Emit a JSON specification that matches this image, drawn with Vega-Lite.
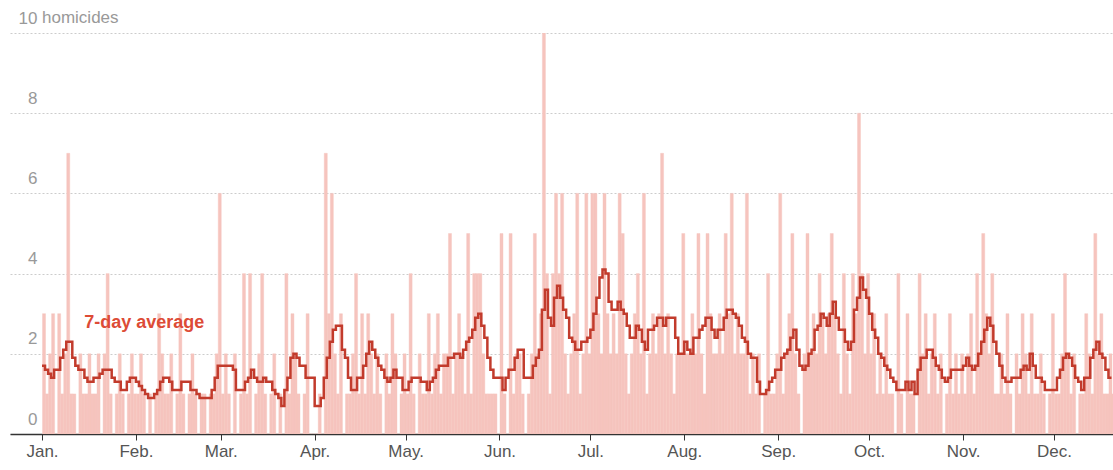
{
  "$schema": "https://vega.github.io/schema/vega-lite/v6.json",
  "width": 1103,
  "height": 401,
  "autosize": {"type": "none"},
  "padding": {"left": 10, "top": 33, "right": 0, "bottom": 36},
  "background": "white",
  "config": {"view": {"stroke": null}, "font": "Liberation Sans"},
  "datasets": {"daily": [
{"date":"2019-01-01","n":3,"a":1.7},{"date":"2019-01-02","n":1,"a":1.6},{"date":"2019-01-03","n":2,"a":1.5},{"date":"2019-01-04","n":3,"a":1.4},{"date":"2019-01-05","n":0,"a":1.6},{"date":"2019-01-06","n":3,"a":1.6},{"date":"2019-01-07","n":1,"a":1.9},{"date":"2019-01-08","n":2,"a":2.1},{"date":"2019-01-09","n":7,"a":2.3},{"date":"2019-01-10","n":1,"a":2.3},{"date":"2019-01-11","n":1,"a":1.9},{"date":"2019-01-12","n":0,"a":1.7},{"date":"2019-01-13","n":2,"a":1.6},{"date":"2019-01-14","n":1,"a":1.6},{"date":"2019-01-15","n":1,"a":1.4},{"date":"2019-01-16","n":2,"a":1.3},{"date":"2019-01-17","n":1,"a":1.3},{"date":"2019-01-18","n":1,"a":1.4},{"date":"2019-01-19","n":2,"a":1.4},{"date":"2019-01-20","n":0,"a":1.5},{"date":"2019-01-21","n":2,"a":1.6},{"date":"2019-01-22","n":4,"a":1.6},{"date":"2019-01-23","n":1,"a":1.6},{"date":"2019-01-24","n":0,"a":1.4},{"date":"2019-01-25","n":1,"a":1.3},{"date":"2019-01-26","n":2,"a":1.3},{"date":"2019-01-27","n":1,"a":1.1},{"date":"2019-01-28","n":0,"a":1.1},{"date":"2019-01-29","n":1,"a":1.3},{"date":"2019-01-30","n":2,"a":1.4},{"date":"2019-01-31","n":1,"a":1.4},
{"date":"2019-02-01","n":1,"a":1.3},{"date":"2019-02-02","n":2,"a":1.2},{"date":"2019-02-03","n":1,"a":1.1},{"date":"2019-02-04","n":0,"a":1.0},{"date":"2019-02-05","n":1,"a":0.9},{"date":"2019-02-06","n":0,"a":0.9},{"date":"2019-02-07","n":1,"a":1.0},{"date":"2019-02-08","n":3,"a":1.1},{"date":"2019-02-09","n":2,"a":1.3},{"date":"2019-02-10","n":1,"a":1.4},{"date":"2019-02-11","n":1,"a":1.4},{"date":"2019-02-12","n":2,"a":1.3},{"date":"2019-02-13","n":0,"a":1.1},{"date":"2019-02-14","n":1,"a":1.1},{"date":"2019-02-15","n":3,"a":1.1},{"date":"2019-02-16","n":1,"a":1.3},{"date":"2019-02-17","n":0,"a":1.3},{"date":"2019-02-18","n":1,"a":1.3},{"date":"2019-02-19","n":2,"a":1.1},{"date":"2019-02-20","n":1,"a":1.1},{"date":"2019-02-21","n":0,"a":1.0},{"date":"2019-02-22","n":1,"a":0.9},{"date":"2019-02-23","n":1,"a":0.9},{"date":"2019-02-24","n":0,"a":0.9},{"date":"2019-02-25","n":1,"a":0.9},{"date":"2019-02-26","n":1,"a":1.1},{"date":"2019-02-27","n":2,"a":1.4},{"date":"2019-02-28","n":6,"a":1.7},
{"date":"2019-03-01","n":1,"a":1.7},{"date":"2019-03-02","n":2,"a":1.7},{"date":"2019-03-03","n":1,"a":1.7},{"date":"2019-03-04","n":0,"a":1.7},{"date":"2019-03-05","n":2,"a":1.6},{"date":"2019-03-06","n":0,"a":1.1},{"date":"2019-03-07","n":1,"a":1.1},{"date":"2019-03-08","n":4,"a":1.1},{"date":"2019-03-09","n":1,"a":1.3},{"date":"2019-03-10","n":4,"a":1.4},{"date":"2019-03-11","n":0,"a":1.6},{"date":"2019-03-12","n":1,"a":1.4},{"date":"2019-03-13","n":2,"a":1.3},{"date":"2019-03-14","n":4,"a":1.3},{"date":"2019-03-15","n":1,"a":1.4},{"date":"2019-03-16","n":0,"a":1.3},{"date":"2019-03-17","n":1,"a":1.3},{"date":"2019-03-18","n":2,"a":1.1},{"date":"2019-03-19","n":0,"a":1.0},{"date":"2019-03-20","n":1,"a":0.9},{"date":"2019-03-21","n":0,"a":0.7},{"date":"2019-03-22","n":4,"a":1.1},{"date":"2019-03-23","n":1,"a":1.4},{"date":"2019-03-24","n":3,"a":1.9},{"date":"2019-03-25","n":2,"a":2.0},{"date":"2019-03-26","n":1,"a":1.9},{"date":"2019-03-27","n":0,"a":1.7},{"date":"2019-03-28","n":1,"a":1.7},{"date":"2019-03-29","n":3,"a":1.4},{"date":"2019-03-30","n":0,"a":1.4},{"date":"2019-03-31","n":0,"a":1.4},
{"date":"2019-04-01","n":0,"a":0.7},{"date":"2019-04-02","n":1,"a":0.7},{"date":"2019-04-03","n":0,"a":0.9},{"date":"2019-04-04","n":7,"a":1.4},{"date":"2019-04-05","n":3,"a":1.9},{"date":"2019-04-06","n":6,"a":2.3},{"date":"2019-04-07","n":2,"a":2.6},{"date":"2019-04-08","n":1,"a":2.7},{"date":"2019-04-09","n":3,"a":2.7},{"date":"2019-04-10","n":0,"a":2.1},{"date":"2019-04-11","n":1,"a":1.9},{"date":"2019-04-12","n":1,"a":1.4},{"date":"2019-04-13","n":2,"a":1.1},{"date":"2019-04-14","n":4,"a":1.1},{"date":"2019-04-15","n":1,"a":1.4},{"date":"2019-04-16","n":3,"a":1.4},{"date":"2019-04-17","n":1,"a":1.7},{"date":"2019-04-18","n":3,"a":2.0},{"date":"2019-04-19","n":2,"a":2.3},{"date":"2019-04-20","n":1,"a":2.1},{"date":"2019-04-21","n":2,"a":1.9},{"date":"2019-04-22","n":1,"a":1.7},{"date":"2019-04-23","n":0,"a":1.6},{"date":"2019-04-24","n":2,"a":1.4},{"date":"2019-04-25","n":1,"a":1.3},{"date":"2019-04-26","n":3,"a":1.4},{"date":"2019-04-27","n":2,"a":1.6},{"date":"2019-04-28","n":0,"a":1.4},{"date":"2019-04-29","n":1,"a":1.4},{"date":"2019-04-30","n":2,"a":1.1},
{"date":"2019-05-01","n":1,"a":1.1},{"date":"2019-05-02","n":4,"a":1.3},{"date":"2019-05-03","n":1,"a":1.4},{"date":"2019-05-04","n":0,"a":1.4},{"date":"2019-05-05","n":2,"a":1.4},{"date":"2019-05-06","n":1,"a":1.3},{"date":"2019-05-07","n":1,"a":1.3},{"date":"2019-05-08","n":3,"a":1.1},{"date":"2019-05-09","n":1,"a":1.3},{"date":"2019-05-10","n":2,"a":1.4},{"date":"2019-05-11","n":3,"a":1.6},{"date":"2019-05-12","n":1,"a":1.7},{"date":"2019-05-13","n":2,"a":1.7},{"date":"2019-05-14","n":2,"a":1.7},{"date":"2019-05-15","n":5,"a":1.9},{"date":"2019-05-16","n":1,"a":1.9},{"date":"2019-05-17","n":2,"a":2.0},{"date":"2019-05-18","n":3,"a":2.0},{"date":"2019-05-19","n":2,"a":1.9},{"date":"2019-05-20","n":1,"a":2.1},{"date":"2019-05-21","n":5,"a":2.3},{"date":"2019-05-22","n":1,"a":2.4},{"date":"2019-05-23","n":4,"a":2.6},{"date":"2019-05-24","n":4,"a":2.9},{"date":"2019-05-25","n":4,"a":3.0},{"date":"2019-05-26","n":2,"a":2.7},{"date":"2019-05-27","n":1,"a":2.4},{"date":"2019-05-28","n":1,"a":1.9},{"date":"2019-05-29","n":1,"a":1.6},{"date":"2019-05-30","n":1,"a":1.4},{"date":"2019-05-31","n":0,"a":1.4},
{"date":"2019-06-01","n":5,"a":1.4},{"date":"2019-06-02","n":1,"a":1.1},{"date":"2019-06-03","n":0,"a":1.4},{"date":"2019-06-04","n":5,"a":1.6},{"date":"2019-06-05","n":1,"a":1.6},{"date":"2019-06-06","n":2,"a":1.9},{"date":"2019-06-07","n":2,"a":2.1},{"date":"2019-06-08","n":1,"a":2.1},{"date":"2019-06-09","n":0,"a":1.4},{"date":"2019-06-10","n":1,"a":1.4},{"date":"2019-06-11","n":2,"a":1.4},{"date":"2019-06-12","n":5,"a":1.7},{"date":"2019-06-13","n":2,"a":1.9},{"date":"2019-06-14","n":3,"a":2.1},{"date":"2019-06-15","n":10,"a":3.1},{"date":"2019-06-16","n":4,"a":3.6},{"date":"2019-06-17","n":1,"a":2.9},{"date":"2019-06-18","n":4,"a":2.7},{"date":"2019-06-19","n":6,"a":3.4},{"date":"2019-06-20","n":4,"a":3.7},{"date":"2019-06-21","n":6,"a":3.4},{"date":"2019-06-22","n":2,"a":3.1},{"date":"2019-06-23","n":1,"a":2.9},{"date":"2019-06-24","n":2,"a":2.4},{"date":"2019-06-25","n":3,"a":2.3},{"date":"2019-06-26","n":6,"a":2.1},{"date":"2019-06-27","n":1,"a":2.1},{"date":"2019-06-28","n":2,"a":2.3},{"date":"2019-06-29","n":6,"a":2.3},{"date":"2019-06-30","n":2,"a":2.4},
{"date":"2019-07-01","n":6,"a":2.6},{"date":"2019-07-02","n":6,"a":3.0},{"date":"2019-07-03","n":3,"a":3.4},{"date":"2019-07-04","n":2,"a":3.9},{"date":"2019-07-05","n":6,"a":4.1},{"date":"2019-07-06","n":3,"a":4.0},{"date":"2019-07-07","n":2,"a":3.3},{"date":"2019-07-08","n":3,"a":3.1},{"date":"2019-07-09","n":2,"a":3.1},{"date":"2019-07-10","n":6,"a":3.3},{"date":"2019-07-11","n":5,"a":3.1},{"date":"2019-07-12","n":2,"a":3.0},{"date":"2019-07-13","n":1,"a":2.7},{"date":"2019-07-14","n":2,"a":2.4},{"date":"2019-07-15","n":3,"a":2.4},{"date":"2019-07-16","n":4,"a":2.7},{"date":"2019-07-17","n":2,"a":2.6},{"date":"2019-07-18","n":6,"a":2.3},{"date":"2019-07-19","n":1,"a":2.1},{"date":"2019-07-20","n":2,"a":2.6},{"date":"2019-07-21","n":3,"a":2.6},{"date":"2019-07-22","n":2,"a":2.7},{"date":"2019-07-23","n":3,"a":2.9},{"date":"2019-07-24","n":7,"a":2.9},{"date":"2019-07-25","n":2,"a":2.7},{"date":"2019-07-26","n":3,"a":2.9},{"date":"2019-07-27","n":2,"a":2.9},{"date":"2019-07-28","n":1,"a":2.9},{"date":"2019-07-29","n":2,"a":2.4},{"date":"2019-07-30","n":2,"a":2.0},{"date":"2019-07-31","n":5,"a":2.0},
{"date":"2019-08-01","n":2,"a":2.3},{"date":"2019-08-02","n":2,"a":2.1},{"date":"2019-08-03","n":3,"a":2.0},{"date":"2019-08-04","n":2,"a":2.4},{"date":"2019-08-05","n":5,"a":2.4},{"date":"2019-08-06","n":2,"a":2.6},{"date":"2019-08-07","n":1,"a":2.7},{"date":"2019-08-08","n":5,"a":2.9},{"date":"2019-08-09","n":3,"a":2.9},{"date":"2019-08-10","n":2,"a":2.6},{"date":"2019-08-11","n":2,"a":2.4},{"date":"2019-08-12","n":3,"a":2.6},{"date":"2019-08-13","n":2,"a":2.6},{"date":"2019-08-14","n":5,"a":2.9},{"date":"2019-08-15","n":3,"a":3.1},{"date":"2019-08-16","n":6,"a":3.1},{"date":"2019-08-17","n":2,"a":3.0},{"date":"2019-08-18","n":3,"a":2.9},{"date":"2019-08-19","n":2,"a":2.7},{"date":"2019-08-20","n":2,"a":2.4},{"date":"2019-08-21","n":6,"a":2.3},{"date":"2019-08-22","n":1,"a":2.0},{"date":"2019-08-23","n":2,"a":1.9},{"date":"2019-08-24","n":1,"a":1.9},{"date":"2019-08-25","n":2,"a":1.3},{"date":"2019-08-26","n":0,"a":1.0},{"date":"2019-08-27","n":1,"a":1.0},{"date":"2019-08-28","n":4,"a":1.1},{"date":"2019-08-29","n":1,"a":1.3},{"date":"2019-08-30","n":1,"a":1.4},{"date":"2019-08-31","n":2,"a":1.6},
{"date":"2019-09-01","n":6,"a":1.6},{"date":"2019-09-02","n":1,"a":1.9},{"date":"2019-09-03","n":2,"a":2.0},{"date":"2019-09-04","n":3,"a":2.1},{"date":"2019-09-05","n":5,"a":2.4},{"date":"2019-09-06","n":2,"a":2.6},{"date":"2019-09-07","n":1,"a":2.1},{"date":"2019-09-08","n":0,"a":1.7},{"date":"2019-09-09","n":2,"a":1.6},{"date":"2019-09-10","n":5,"a":1.7},{"date":"2019-09-11","n":2,"a":2.0},{"date":"2019-09-12","n":3,"a":2.1},{"date":"2019-09-13","n":2,"a":2.6},{"date":"2019-09-14","n":4,"a":2.7},{"date":"2019-09-15","n":3,"a":3.0},{"date":"2019-09-16","n":2,"a":2.9},{"date":"2019-09-17","n":3,"a":2.7},{"date":"2019-09-18","n":5,"a":3.0},{"date":"2019-09-19","n":3,"a":3.3},{"date":"2019-09-20","n":2,"a":2.9},{"date":"2019-09-21","n":1,"a":2.6},{"date":"2019-09-22","n":4,"a":2.6},{"date":"2019-09-23","n":2,"a":2.3},{"date":"2019-09-24","n":1,"a":2.1},{"date":"2019-09-25","n":4,"a":2.3},{"date":"2019-09-26","n":3,"a":3.1},{"date":"2019-09-27","n":8,"a":3.4},{"date":"2019-09-28","n":4,"a":3.9},{"date":"2019-09-29","n":2,"a":3.6},{"date":"2019-09-30","n":4,"a":3.4},
{"date":"2019-10-01","n":2,"a":3.0},{"date":"2019-10-02","n":3,"a":2.6},{"date":"2019-10-03","n":1,"a":2.4},{"date":"2019-10-04","n":2,"a":2.0},{"date":"2019-10-05","n":1,"a":1.9},{"date":"2019-10-06","n":3,"a":1.7},{"date":"2019-10-07","n":1,"a":1.6},{"date":"2019-10-08","n":1,"a":1.4},{"date":"2019-10-09","n":0,"a":1.3},{"date":"2019-10-10","n":4,"a":1.1},{"date":"2019-10-11","n":1,"a":1.1},{"date":"2019-10-12","n":0,"a":1.1},{"date":"2019-10-13","n":3,"a":1.3},{"date":"2019-10-14","n":1,"a":1.1},{"date":"2019-10-15","n":1,"a":1.3},{"date":"2019-10-16","n":0,"a":1.0},{"date":"2019-10-17","n":4,"a":1.6},{"date":"2019-10-18","n":2,"a":1.9},{"date":"2019-10-19","n":3,"a":1.9},{"date":"2019-10-20","n":1,"a":2.1},{"date":"2019-10-21","n":2,"a":2.1},{"date":"2019-10-22","n":3,"a":1.9},{"date":"2019-10-23","n":1,"a":1.7},{"date":"2019-10-24","n":2,"a":1.6},{"date":"2019-10-25","n":0,"a":1.4},{"date":"2019-10-26","n":1,"a":1.3},{"date":"2019-10-27","n":3,"a":1.4},{"date":"2019-10-28","n":1,"a":1.6},{"date":"2019-10-29","n":2,"a":1.6},{"date":"2019-10-30","n":1,"a":1.6},{"date":"2019-10-31","n":2,"a":1.6},
{"date":"2019-11-01","n":1,"a":1.7},{"date":"2019-11-02","n":2,"a":1.9},{"date":"2019-11-03","n":3,"a":1.7},{"date":"2019-11-04","n":1,"a":1.6},{"date":"2019-11-05","n":4,"a":1.7},{"date":"2019-11-06","n":2,"a":2.0},{"date":"2019-11-07","n":5,"a":2.3},{"date":"2019-11-08","n":3,"a":2.6},{"date":"2019-11-09","n":2,"a":2.9},{"date":"2019-11-10","n":4,"a":2.7},{"date":"2019-11-11","n":1,"a":2.3},{"date":"2019-11-12","n":1,"a":2.0},{"date":"2019-11-13","n":2,"a":1.7},{"date":"2019-11-14","n":1,"a":1.4},{"date":"2019-11-15","n":3,"a":1.3},{"date":"2019-11-16","n":1,"a":1.3},{"date":"2019-11-17","n":0,"a":1.4},{"date":"2019-11-18","n":2,"a":1.4},{"date":"2019-11-19","n":1,"a":1.4},{"date":"2019-11-20","n":3,"a":1.6},{"date":"2019-11-21","n":2,"a":1.7},{"date":"2019-11-22","n":1,"a":1.6},{"date":"2019-11-23","n":3,"a":2.0},{"date":"2019-11-24","n":1,"a":1.7},{"date":"2019-11-25","n":1,"a":1.4},{"date":"2019-11-26","n":2,"a":1.4},{"date":"2019-11-27","n":1,"a":1.3},{"date":"2019-11-28","n":0,"a":1.1},{"date":"2019-11-29","n":1,"a":1.1},{"date":"2019-11-30","n":3,"a":1.1},
{"date":"2019-12-01","n":1,"a":1.1},{"date":"2019-12-02","n":1,"a":1.4},{"date":"2019-12-03","n":2,"a":1.6},{"date":"2019-12-04","n":4,"a":1.9},{"date":"2019-12-05","n":2,"a":2.0},{"date":"2019-12-06","n":1,"a":1.9},{"date":"2019-12-07","n":2,"a":1.7},{"date":"2019-12-08","n":0,"a":1.4},{"date":"2019-12-09","n":1,"a":1.3},{"date":"2019-12-10","n":1,"a":1.1},{"date":"2019-12-11","n":3,"a":1.4},{"date":"2019-12-12","n":2,"a":1.4},{"date":"2019-12-13","n":1,"a":1.9},{"date":"2019-12-14","n":5,"a":2.1},{"date":"2019-12-15","n":2,"a":2.3},{"date":"2019-12-16","n":3,"a":2.0},{"date":"2019-12-17","n":1,"a":1.9},{"date":"2019-12-18","n":1,"a":1.6},{"date":"2019-12-19","n":2,"a":1.4},{"date":"2019-12-20","n":1,"a":1.4}
  ]},
  "layer": [
    {
      "data": {"name": "daily"},
      "mark": {"type": "bar", "color": "#f6c4be", "clip": true, "binSpacing": 0, "stroke": "#f6c4be", "strokeWidth": 0.4},
      "encoding": {
        "x": {
          "field": "date", "type": "temporal", "timeUnit": "utcyearmonthdate",
          "scale": {"type": "utc", "domain": [{"year": 2018, "month": 12, "date": 21, "hours": 10, "minutes": 30, "utc": true}, {"year": 2019, "month": 12, "date": 20, "hours": 12, "utc": true}]},
          "axis": {
            "title": null,
            "values": [
              {"year": 2019, "month": 1, "date": 1, "utc": true},
              {"year": 2019, "month": 2, "date": 1, "utc": true},
              {"year": 2019, "month": 3, "date": 1, "utc": true},
              {"year": 2019, "month": 4, "date": 1, "utc": true},
              {"year": 2019, "month": 5, "date": 1, "utc": true},
              {"year": 2019, "month": 6, "date": 1, "utc": true},
              {"year": 2019, "month": 7, "date": 1, "utc": true},
              {"year": 2019, "month": 8, "date": 1, "utc": true},
              {"year": 2019, "month": 9, "date": 1, "utc": true},
              {"year": 2019, "month": 10, "date": 1, "utc": true},
              {"year": 2019, "month": 11, "date": 1, "utc": true},
              {"year": 2019, "month": 12, "date": 1, "utc": true}
            ],
            "labelExpr": "utcFormat(datum.value, '%b') + '.'",
            "grid": false,
            "domainColor": "#333333",
            "domainWidth": 1.5,
            "tickColor": "#333333",
            "tickSize": 6,
            "labelColor": "#555555",
            "labelFontSize": 17,
            "labelPadding": 3,
            "labelFlush": false
          }
        },
        "y": {
          "field": "n", "type": "quantitative",
          "scale": {"domain": [0, 10], "nice": false},
          "axis": {
            "title": null,
            "values": [0, 2, 4, 6, 8, 10],
            "grid": true,
            "gridColor": "#cccccc",
            "gridDash": [2, 2],
            "domain": false,
            "ticks": false,
            "labelAlign": "right",
            "labelPadding": -27,
            "labelBaseline": "alphabetic",
            "labelOffset": -10,
            "labelColor": "#999999",
            "labelFontSize": 17
          }
        }
      }
    },
    {
      "data": {"name": "daily"},
      "mark": {"type": "line", "interpolate": "step-after", "color": "#c23b2c", "strokeWidth": 2.5, "clip": true},
      "encoding": {
        "x": {"field": "date", "type": "temporal"},
        "y": {"field": "a", "type": "quantitative"}
      }
    },
    {
      "data": {"values": [{"label": "7-day average"}]},
      "mark": {"type": "text", "align": "left", "baseline": "middle", "fontSize": 18, "fontWeight": "bold", "color": "#dd4b36"},
      "encoding": {
        "text": {"field": "label"},
        "x": {"datum": {"year": 2019, "month": 1, "date": 14, "hours": 22, "utc": true}, "type": "temporal"},
        "y": {"datum": 2.77, "type": "quantitative"}
      }
    },
    {
      "data": {"values": [{"label": "homicides"}]},
      "mark": {"type": "text", "align": "left", "baseline": "alphabetic", "dy": -10, "fontSize": 17, "color": "#999999"},
      "encoding": {
        "text": {"field": "label"},
        "x": {"datum": {"year": 2019, "month": 1, "date": 1, "utc": true}, "type": "temporal"},
        "y": {"datum": 10, "type": "quantitative"}
      }
    }
  ]
}
